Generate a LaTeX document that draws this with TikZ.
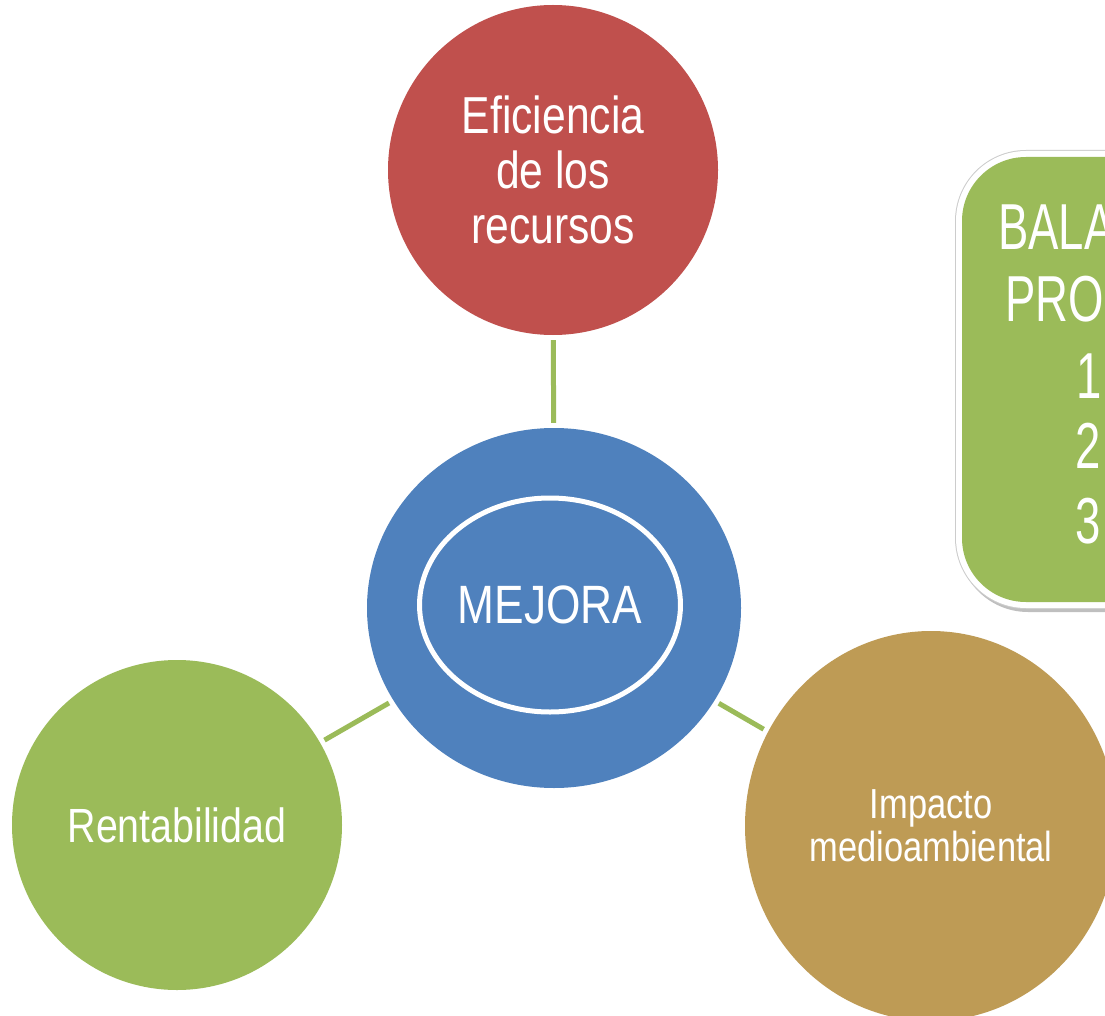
\documentclass[tikz,border=0pt]{standalone}
\usepackage{fontspec}
\setmainfont{Liberation Sans}[FakeStretch=0.82]
\newfontfamily\boxfont{Liberation Sans}[FakeStretch=0.7]
\usetikzlibrary{shapes.geometric}
\definecolor{cred}{HTML}{C0504D}
\definecolor{cblue}{HTML}{4F81BD}
\definecolor{cgreen}{HTML}{9BBB59}
\definecolor{cgold}{HTML}{BE9B55}
\tikzset{
  bubble/.style={circle, inner sep=0pt, text=white, align=center},
  link/.style={draw=cgreen, line width=5pt, shorten <=5pt, shorten >=5pt},
  boxtxt/.style={anchor=base west, inner sep=0pt, text=white, font=\boxfont\fontsize{65}{72}\selectfont}
}
\begin{document}
\begin{tikzpicture}[x=1pt,y=-1pt]
\useasboundingbox (0,0) rectangle (1105,1016);
\clip (0,0) rectangle (1105,1016);
\fill[white] (0,0) rectangle (1105,1016);
% side box
\fill[black, opacity=0.25, rounded corners=70pt] (958,157) rectangle (1250,612);
\fill[gray!40, rounded corners=71pt] (955,150) rectangle (1250,609);
\fill[white, rounded corners=70pt] (956,151) rectangle (1250,608);
\fill[cgreen, rounded corners=64pt] (962,157) rectangle (1250,602);
\node[boxtxt] (b1) at (998,250) {BALA};
\node[boxtxt] (b2) at (1005,321) {PRO};
\node[boxtxt] (b3) at (1076,398) {1};
\node[boxtxt] (b4) at (1075,468) {2};
\node[boxtxt] (b5) at (1075,543) {3};
% circles
\node[bubble, fill=cred, minimum size=330pt, font=\fontsize{52}{55}\selectfont] (eff) at (553,170) {Eficiencia\\de los\\recursos};
\node[ellipse, inner sep=0pt, fill=cblue, minimum width=374pt, minimum height=360pt] (mej) at (554,608) {};
\node[ellipse, inner sep=0pt, draw=white, line width=5pt, minimum width=244pt, minimum height=214pt, text=white, font=\fontsize{54}{60}\selectfont] (mejin) at (550,605) {MEJORA};
\node[bubble, fill=cgreen, minimum size=330pt, font=\fontsize{48}{55}\selectfont] (rent) at (177,825) {Rentabilidad};
\node[ellipse, inner sep=0pt, text=white, align=center, fill=cgold, minimum width=372pt, minimum height=390pt, font=\fontsize{42}{43}\selectfont] (imp) at (931,826) {Impacto\\medioambiental};
% connectors
\draw[link] (eff) -- (mej);
\draw[link] (mej) -- (rent);
\draw[link] (mej) -- (imp);
\end{tikzpicture}
\end{document}
